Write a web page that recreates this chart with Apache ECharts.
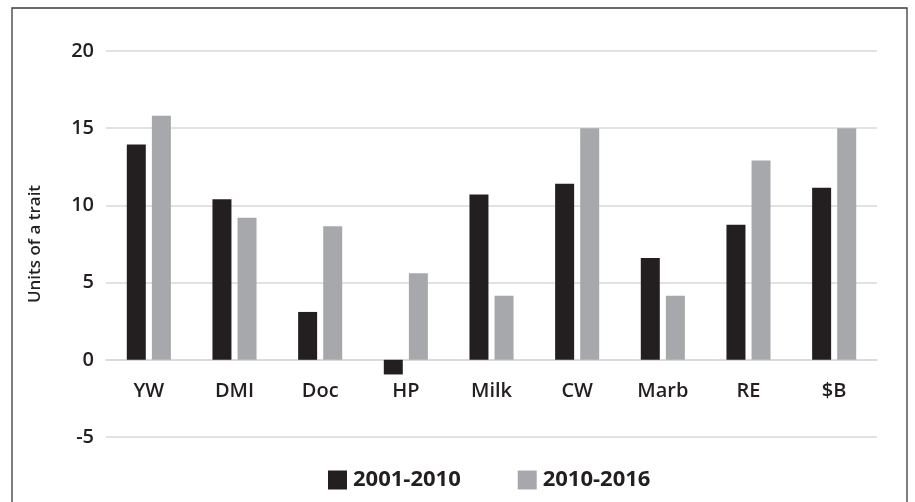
<!DOCTYPE html>
<html>
<head>
<meta charset="utf-8">
<script src="https://cdn.jsdelivr.net/npm/echarts@6/dist/echarts.min.js"></script>
<style>
html,body{margin:0;padding:0;background:#fff;}
#c{width:915px;height:502px;}
</style>
</head>
<body>
<div id="c"></div>
<script>
const categories = ['YW', 'DMI', 'Doc', 'HP', 'Milk', 'CW', 'Marb', 'RE', '$B'];
const series2001 = [13.95, 10.4, 3.1, -0.95, 10.7, 11.4, 6.6, 8.75, 11.15];
const series2010 = [15.8, 9.2, 8.65, 5.6, 4.15, 15.0, 4.15, 12.9, 15.0];
const seriesNames = ['2001-2010', '2010-2016'];
const yTicks = { min: -5, max: 20, interval: 5 };

const FONT = '"Open Sans", "Noto Sans", sans-serif';
const TXT = '#231f20';
const W = 915, H = 502;
const gridTop = 51, gridBottom = 65;
const plotH = H - gridTop - gridBottom;
// move the category axis up to the zero line
const zeroOffset = -plotH * (0 - yTicks.min) / (yTicks.max - yTicks.min);

const chart = echarts.init(document.getElementById('c'), null, { renderer: 'canvas' });
chart.setOption({
  animation: false,
  backgroundColor: '#fff',
  graphic: [{
    type: 'rect',
    shape: { x: 12, y: 8, width: 895, height: 520 },
    style: { fill: 'none', stroke: '#3a3a3a', lineWidth: 1.3 },
    silent: true
  }],
  grid: { left: 106, right: 38, top: gridTop, bottom: gridBottom, containLabel: false },
  legend: {
    data: seriesNames,
    left: 328,
    top: 469,
    padding: 0,
    itemWidth: 19,
    itemHeight: 19,
    itemGap: 57,
    icon: 'rect',
    textStyle: { fontFamily: FONT, fontSize: 22, fontWeight: 'bold', color: TXT, padding: [0, 0, 0, 1] }
  },
  xAxis: {
    type: 'category',
    data: categories,
    offset: zeroOffset,
    axisLine: { onZero: false, lineStyle: { color: '#d9d9d9', width: 1.5 } },
    axisTick: { show: false },
    axisLabel: { fontFamily: FONT, fontSize: 20, fontWeight: 600, color: TXT, margin: 21 }
  },
  yAxis: {
    type: 'value',
    min: yTicks.min,
    max: yTicks.max,
    interval: yTicks.interval,
    name: 'Units of a trait',
    nameLocation: 'middle',
    nameGap: 62,
    nameTextStyle: { fontFamily: FONT, fontSize: 17, fontWeight: 600, color: TXT },
    axisLine: { show: false },
    axisTick: { show: false },
    axisLabel: { fontFamily: FONT, fontSize: 20, fontWeight: 600, color: TXT, margin: 12 },
    splitLine: { lineStyle: { color: '#d9d9d9', width: 1.5 } }
  },
  series: [
    { name: seriesNames[0], type: 'bar', data: series2001, barWidth: 19, barGap: '32%', itemStyle: { color: '#231f20' } },
    { name: seriesNames[1], type: 'bar', data: series2010, barWidth: 19, itemStyle: { color: '#a7a8ab' } }
  ]
});
</script>
</body>
</html>
